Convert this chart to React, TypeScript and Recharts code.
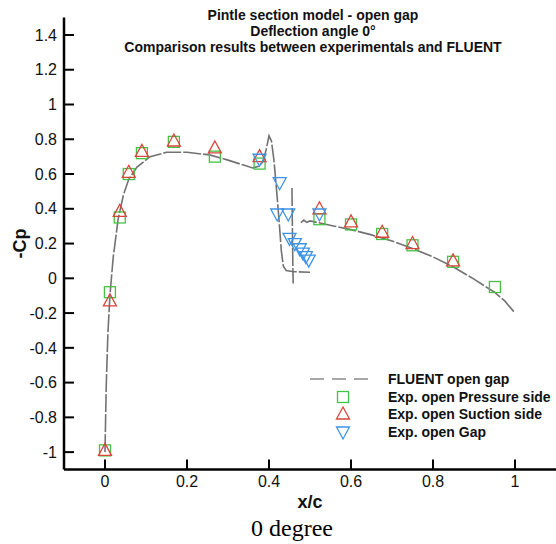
import React from 'react'
import { ScatterChart, Scatter, XAxis, YAxis, Legend, Label } from 'recharts'

const FONT = '"Liberation Sans", Arial, sans-serif'
const GREEN = '#45c245'
const RED = '#d8473b'
const BLUE = '#3f93e6'
const GREY = '#727272'

// FLUENT open gap as (x/c, -Cp)
const fluentMain: [number, number][] = [
  [0, -1.0], [0.003, -0.62], [0.007, -0.32], [0.012, -0.1], [0.02, 0.12],
  [0.032, 0.34], [0.045, 0.48], [0.058, 0.57], [0.078, 0.64], [0.11, 0.7],
  [0.15, 0.725], [0.2, 0.725], [0.255, 0.71], [0.3, 0.68], [0.34, 0.65],
  [0.36, 0.635], [0.375, 0.645], [0.385, 0.67], [0.393, 0.74], [0.4, 0.82],
  [0.406, 0.79], [0.412, 0.68], [0.418, 0.52], [0.424, 0.35], [0.43, 0.16],
  [0.435, 0.07], [0.442, 0.045], [0.46, 0.038], [0.5, 0.035],
]
const fluentGapWall: [number, number][] = [
  [0.456, 0.52], [0.457, 0.3], [0.458, 0.1], [0.459, -0.03],
]
const fluentAft: [number, number][] = [
  [0.478, 0.32], [0.485, 0.335], [0.492, 0.322], [0.5, 0.33], [0.52, 0.32],
  [0.56, 0.3], [0.6, 0.28], [0.65, 0.25], [0.7, 0.215], [0.75, 0.172],
  [0.8, 0.123], [0.85, 0.065], [0.9, -0.005], [0.95, -0.08], [0.975, -0.13],
  [1.0, -0.2],
]

// experimental points
const pressureSide: [number, number][] = [
  [0, -0.99], [0.012, -0.08], [0.036, 0.35], [0.058, 0.6], [0.09, 0.72],
  [0.168, 0.785], [0.268, 0.7], [0.377, 0.66], [0.523, 0.34], [0.6, 0.31],
  [0.676, 0.255], [0.75, 0.19], [0.849, 0.095], [0.951, -0.05],
]
const suctionSide: [number, number][] = [
  [0, -0.99], [0.012, -0.13], [0.036, 0.385], [0.058, 0.61], [0.09, 0.73],
  [0.168, 0.79], [0.268, 0.75], [0.377, 0.7], [0.523, 0.4], [0.6, 0.325],
  [0.676, 0.265], [0.75, 0.2], [0.849, 0.1],
]
const gapSide: [number, number][] = [
  [0.377, 0.685], [0.426, 0.55], [0.42, 0.37], [0.447, 0.37], [0.45, 0.23],
  [0.463, 0.2], [0.475, 0.17], [0.483, 0.145], [0.49, 0.125], [0.497, 0.105],
  [0.523, 0.37],
]

const xTicks = [0, 0.2, 0.4, 0.6, 0.8, 1]
const yTicks = [-1, -0.8, -0.6, -0.4, -0.2, 0, 0.2, 0.4, 0.6, 0.8, 1, 1.2, 1.4]

const toPoints = (pts: [number, number][]) => pts.map(([x, y]) => ({ x, y }))

const Square = ({ cx, cy }: any) => (
  <rect x={cx - 5.5} y={cy - 5.5} width={11} height={11} fill="none" stroke={GREEN} strokeWidth={1.3} />
)
const TriUp = ({ cx, cy }: any) => (
  <polygon
    points={`${cx},${cy - 7} ${cx + 6.5},${cy + 5} ${cx - 6.5},${cy + 5}`}
    fill="none"
    stroke={RED}
    strokeWidth={1.3}
  />
)
const TriDown = ({ cx, cy }: any) => (
  <polygon
    points={`${cx - 6.5},${cy - 5} ${cx + 6.5},${cy - 5} ${cx},${cy + 7}`}
    fill="none"
    stroke={BLUE}
    strokeWidth={1.3}
  />
)
const NoDot = () => <g />

const legendText = { fontFamily: FONT, fontSize: 14, fontWeight: 700, fill: '#111' }

const renderLegend = () => (
  <svg width={256} height={76} style={{ display: 'block' }}>
    <line x1={10} x2={72} y1={11} y2={11} stroke="#8a8a8a" strokeWidth={1.5} strokeDasharray="14 8" />
    <Square cx={43} cy={29} />
    <TriUp cx={43} cy={46} />
    <TriDown cx={43} cy={64} />
    <text x={88} y={11} dy="0.35em" {...legendText}>FLUENT open gap</text>
    <text x={88} y={29} dy="0.35em" {...legendText}>Exp. open Pressure side</text>
    <text x={88} y={46} dy="0.35em" {...legendText}>Exp. open Suction side</text>
    <text x={88} y={64} dy="0.35em" {...legendText}>Exp. open Gap</text>
  </svg>
)

export default function App() {
  const lineStyle = { stroke: GREY, strokeWidth: 1.6, strokeDasharray: '18 2' }
  return (
    <div style={{ position: 'absolute', left: 0, top: 0, width: 556, height: 544, background: '#fff' }}>
      <div
        style={{
          position: 'absolute', left: 63, top: 7, width: 500, textAlign: 'center',
          fontFamily: FONT, fontSize: 14, fontWeight: 700, lineHeight: '16px', color: '#111',
          whiteSpace: 'nowrap',
        }}
      >
        <div>Pintle section model - open gap</div>
        <div>Deflection angle 0°</div>
        <div>Comparison results between experimentals and FLUENT</div>
      </div>

      <ScatterChart width={556} height={544} margin={{ top: 17.6, right: 0, bottom: 29.5, left: 0 }}>
        <XAxis
          type="number"
          dataKey="x"
          domain={[-0.1, 1.1]}
          ticks={xTicks}
          height={45}
          stroke="#000"
          axisLine={{ stroke: '#000', strokeWidth: 2.5 }}
          tickLine={{ stroke: '#000', strokeWidth: 2 }}
          tickSize={-10}
          tickMargin={16}
          tick={{ fill: '#111', fontSize: 16, fontFamily: FONT }}
        >
          <Label value="x/c" position="insideBottom" offset={7} style={{ fontFamily: FONT, fontSize: 18, fontWeight: 700, fill: '#111' }} />
        </XAxis>
        <YAxis
          type="number"
          dataKey="y"
          domain={[-1.1, 1.5]}
          ticks={yTicks}
          width={64}
          stroke="#000"
          axisLine={{ stroke: '#000', strokeWidth: 2.5 }}
          tickLine={{ stroke: '#000', strokeWidth: 2 }}
          tickSize={-10}
          tickMargin={17}
          tick={{ fill: '#111', fontSize: 16, fontFamily: FONT }}
        >
          <Label
            value="-Cp"
            angle={-90}
            position="insideLeft"
            offset={20}
            style={{ textAnchor: 'middle', fontFamily: FONT, fontSize: 18, fontWeight: 700, fill: '#111' }}
          />
        </YAxis>

        <Scatter data={toPoints(fluentMain)} line={lineStyle} shape={NoDot} isAnimationActive={false} />
        <Scatter data={toPoints(fluentGapWall)} line={lineStyle} shape={NoDot} isAnimationActive={false} />
        <Scatter data={toPoints(fluentAft)} line={lineStyle} shape={NoDot} isAnimationActive={false} />
        <Scatter data={toPoints(pressureSide)} shape={Square} isAnimationActive={false} />
        <Scatter data={toPoints(suctionSide)} shape={TriUp} isAnimationActive={false} />
        <Scatter data={toPoints(gapSide)} shape={TriDown} isAnimationActive={false} />

        <Legend
          layout="vertical"
          align="center"
          verticalAlign="middle"
          content={renderLegend}
          wrapperStyle={{ left: 300, top: 368, width: 256, height: 76 }}
        />
      </ScatterChart>

      <div
        style={{
          position: 'absolute', left: 192, top: 514, width: 200, textAlign: 'center',
          fontFamily: '"Liberation Serif", "Times New Roman", serif', fontSize: 24, lineHeight: '28px', color: '#000',
        }}
      >
        0 degree
      </div>
    </div>
  )
}
